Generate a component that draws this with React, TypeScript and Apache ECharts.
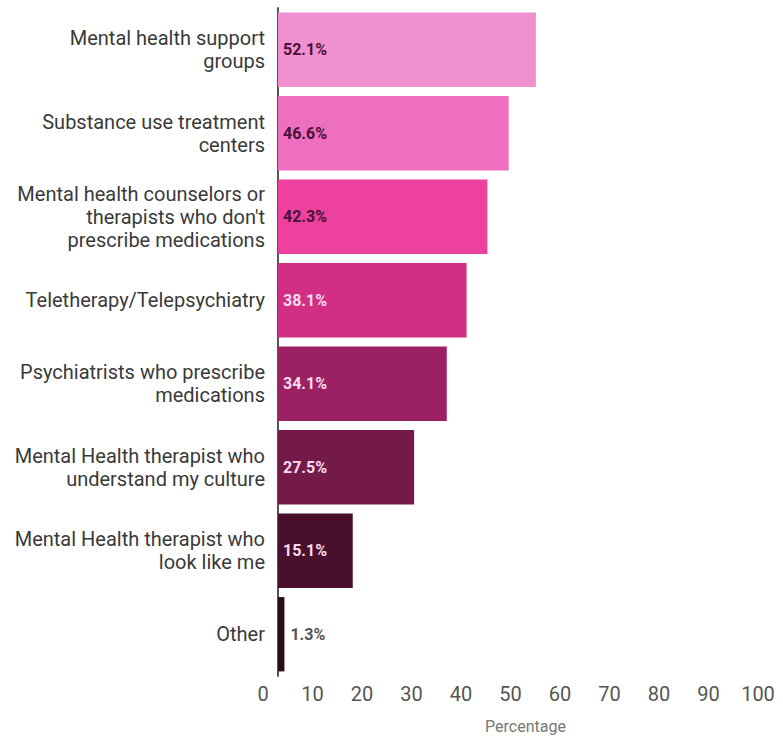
import React, { useEffect, useRef } from "react";
import * as echarts from "echarts";

const categories = [
  "Mental health support\ngroups",
  "Substance use treatment\ncenters",
  "Mental health counselors or\ntherapists who don't\nprescribe medications",
  "Teletherapy/Telepsychiatry",
  "Psychiatrists who prescribe\nmedications",
  "Mental Health therapist who\nunderstand my culture",
  "Mental Health therapist who\nlook like me",
  "Other",
];
const values = [52.1, 46.6, 42.3, 38.1, 34.1, 27.5, 15.1, 1.3];
const barColors = ["#f090cf", "#ee6fc0", "#ec419f", "#d02f84", "#9c2162", "#741a48", "#4a0f2c", "#2a0a1b"];
const labelColors = ["#4a1035", "#4a1035", "#4a1035", "#fbdcee", "#fbdcee", "#fbdcee", "#fbdcee", "#555555"];
const xTicks = { min: 0, max: 100, interval: 10 };

export default function App() {
  const ref = useRef<HTMLDivElement>(null);
  useEffect(() => {
    if (!ref.current) return;
    const chart = echarts.init(ref.current, null, { renderer: "svg" });
    const font = "Roboto, 'Noto Sans', sans-serif";
    chart.setOption({
      animation: false,
      grid: { left: 278, right: 10, top: 8, bottom: 46, containLabel: false },
      xAxis: {
        type: "value",
        min: xTicks.min,
        max: xTicks.max,
        interval: xTicks.interval,
        axisLine: { show: false },
        axisTick: { show: false },
        splitLine: { show: false },
        axisLabel: {
          color: "#555",
          fontSize: 20,
          fontFamily: font,
          margin: 8,
          padding: [0, 30, 0, 0],
        },
        name: "Percentage",
        nameLocation: "middle",
        nameGap: 42,
        nameTextStyle: { color: "#777", fontSize: 16, fontFamily: font },
      },
      yAxis: {
        type: "category",
        inverse: true,
        data: categories,
        axisLine: { show: true, lineStyle: { color: "#555", width: 2 } },
        axisTick: { show: false },
        axisLabel: {
          color: "#3a3a3a",
          fontSize: 20,
          fontFamily: font,
          lineHeight: 23,
          margin: 13,
          align: "right",
        },
      },
      series: [
        {
          type: "bar",
          barCategoryGap: "11%",
          data: values.map((v, i) => ({
            value: v,
            itemStyle: { color: barColors[i] },
            label: {
              show: true,
              position: v < 5 ? "right" : "insideLeft",
              distance: v < 5 ? 6 : 5,
              formatter: "{c}%",
              color: labelColors[i],
              fontSize: 16,
              fontWeight: "bold",
              fontFamily: font,
            },
          })),
        },
      ],
    });
    return () => chart.dispose();
  }, []);
  return (
    <div
      ref={ref}
      style={{ position: "fixed", left: 0, top: 0, width: 783, height: 739, background: "#fff" }}
    />
  );
}
